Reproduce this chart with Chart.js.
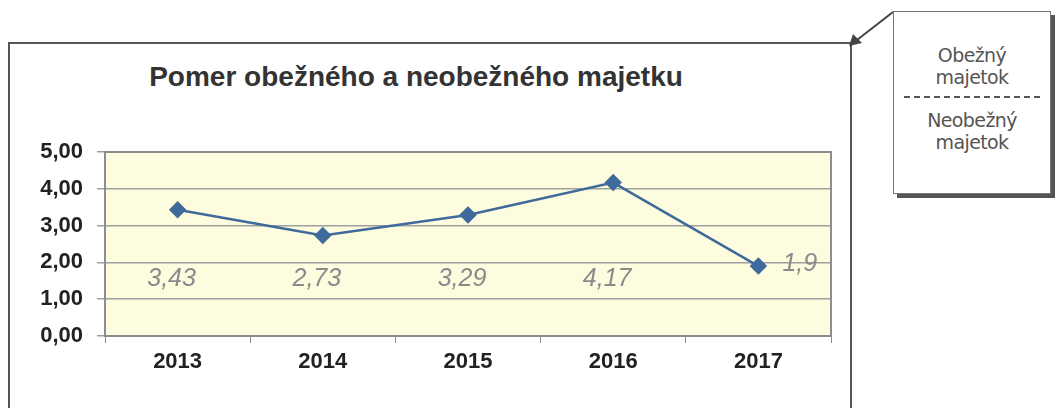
<!DOCTYPE html>
<html>
<head>
<meta charset="utf-8">
<script src="https://cdn.jsdelivr.net/npm/chart.js@4/dist/chart.umd.min.js"></script>
<style>
  html, body { margin:0; padding:0; background:#fff; width:1058px; height:408px; overflow:hidden; }
  #wrap { position:absolute; left:0; top:0; width:1058px; height:408px; }
  #frame { position:absolute; left:8px; top:42px; width:840px; height:400px; border:2px solid #555; border-bottom:none; }
  #title { position:absolute; left:0px; width:832px; top:61px; text-align:center; font:bold 28px "Liberation Sans", Arial, sans-serif; color:#333; letter-spacing:0px; }
  #callout { position:absolute; left:893px; top:11px; width:156px; height:181px; border:1px solid #777; background:#fff; box-shadow:4px 4px 0 #555; font:19px "DejaVu Sans", Verdana, sans-serif; color:#555; text-align:center; }
  #callout .t { position:absolute; left:0; width:100%; line-height:22px; letter-spacing:-0.6px; }
  #callout .d { position:absolute; left:10px; width:136px; top:84px; border-top:2px dashed #555; }
  canvas { position:absolute; left:0; top:0; }
  svg { position:absolute; left:0; top:0; }
</style>
</head>
<body>
<div id="wrap">
  <div id="frame"></div>
  <div id="title">Pomer obežného a neobežného majetku</div>
  <svg width="1058" height="408">
    <line x1="893" y1="12" x2="857" y2="40" stroke="#444" stroke-width="2"/>
    <polygon points="849,46 853,34 862,43" fill="#444"/>
  </svg>
  <div id="callout">
    <div class="t" style="top:32px">Obežný<br>majetok</div>
    <div class="d"></div>
    <div class="t" style="top:97px">Neobežný<br>majetok</div>
  </div>
  <canvas id="c" width="1058" height="408"></canvas>
</div>
<script>
const categories = ['2013', '2014', '2015', '2016', '2017'];
const ratioValues = [3.43, 2.73, 3.29, 4.17, 1.9];
const valueLabels = ['3,43', '2,73', '3,29', '4,17', '1,9'];
const yTickValues = [0, 1, 2, 3, 4, 5];

const plotBg = {
  id: 'plotBg',
  beforeDraw(chart) {
    const { ctx, chartArea: a } = chart;
    ctx.save();
    ctx.fillStyle = '#fdfcde';
    ctx.fillRect(a.left, a.top, a.right - a.left, a.bottom - a.top);
    ctx.restore();
  },
  afterDatasetsDraw(chart) {
    const { ctx, chartArea: a } = chart;
    ctx.save();
    ctx.strokeStyle = '#8c8c8c';
    ctx.lineWidth = 2;
    ctx.strokeRect(a.left, a.top, a.right - a.left, a.bottom - a.top);
    ctx.restore();
  }
};

const dataLabels = {
  id: 'dataLabels',
  afterDraw(chart) {
    const { ctx } = chart;
    const meta = chart.getDatasetMeta(0);
    const y = chart.scales.y;
    ctx.save();
    ctx.font = 'italic 25px "Liberation Sans", Arial, sans-serif';
    ctx.fillStyle = '#8a8a8a';
    ctx.textBaseline = 'middle';
    meta.data.forEach((pt, i) => {
      if (i === meta.data.length - 1) {
        ctx.textAlign = 'left';
        ctx.fillText(valueLabels[i], pt.x + 24, pt.y - 2);
      } else {
        ctx.textAlign = 'center';
        ctx.fillText(valueLabels[i], pt.x - 6, y.getPixelForValue(1.55));
      }
    });
    ctx.restore();
  }
};

new Chart(document.getElementById('c'), {
  type: 'line',
  data: {
    labels: categories,
    datasets: [{
      data: ratioValues,
      borderColor: '#40699c',
      backgroundColor: '#40699c',
      borderWidth: 2.5,
      pointStyle: 'rectRot',
      pointRadius: 7,
      pointHoverRadius: 7,
      tension: 0
    }]
  },
  options: {
    responsive: false,
    animation: false,
    devicePixelRatio: 1,
    layout: { padding: { left: 0, right: 227, top: 152, bottom: 0 } },
    plugins: { legend: { display: false }, title: { display: false }, tooltip: { enabled: false } },
    scales: {
      x: {
        offset: true,
        grid: { drawOnChartArea: false, drawTicks: true, tickLength: 7, color: '#8c8c8c', offset: true },
        border: { display: false },
        ticks: { color: '#222', font: { family: '"Liberation Sans", Arial, sans-serif', size: 22, weight: 'bold' }, padding: 6 },
        afterFit(s) { s.height = 72; }
      },
      y: {
        min: 0, max: 5,
        afterBuildTicks(s) { s.ticks = yTickValues.map(v => ({ value: v })); },
        grid: { color: '#a0a0a0', lineWidth: 1.5, tickLength: 8, drawTicks: true },
        border: { display: false },
        ticks: {
          color: '#222',
          font: { family: '"Liberation Sans", Arial, sans-serif', size: 22, weight: 'bold' },
          padding: 14,
          callback: v => v.toFixed(2).replace('.', ',')
        },
        afterFit(s) { s.width = 105; }
      }
    }
  },
  plugins: [plotBg, dataLabels]
});
</script>
</body>
</html>
